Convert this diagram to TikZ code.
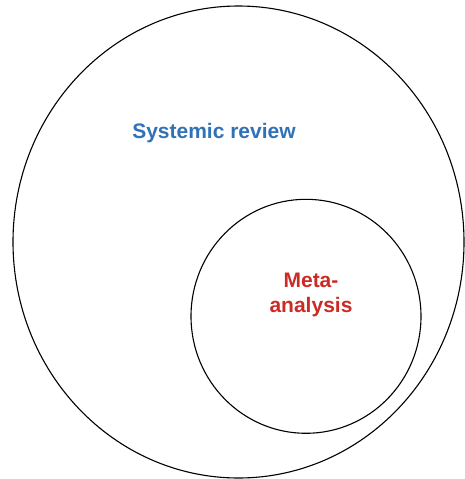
\documentclass[tikz,border=0pt]{standalone}
\usepackage{fontspec}
\setmainfont{Liberation Sans}
\definecolor{reviewblue}{HTML}{2F72B8}
\definecolor{metared}{HTML}{CC2A25}
\begin{document}
\begin{tikzpicture}[x=1pt,y=-1pt,
  setline/.style={draw=black, line width=1.1pt},
  setlabel/.style={font=\bfseries\fontsize{21}{25}\selectfont, align=center, inner sep=0pt}]
  \useasboundingbox (0,0) rectangle (465,479);
  % outer set: systematic reviews
  \draw[setline] (238.5,242) ellipse [x radius=225.5, y radius=236];
  % inner set: meta-analyses
  \draw[setline] (306,316.3) ellipse [x radius=115, y radius=117];
  \node[setlabel, text=reviewblue] (review) at (214,133) {Systemic review};
  \node[setlabel, text=metared] (meta) at (311,295) {Meta-\\analysis};
\end{tikzpicture}
\end{document}
